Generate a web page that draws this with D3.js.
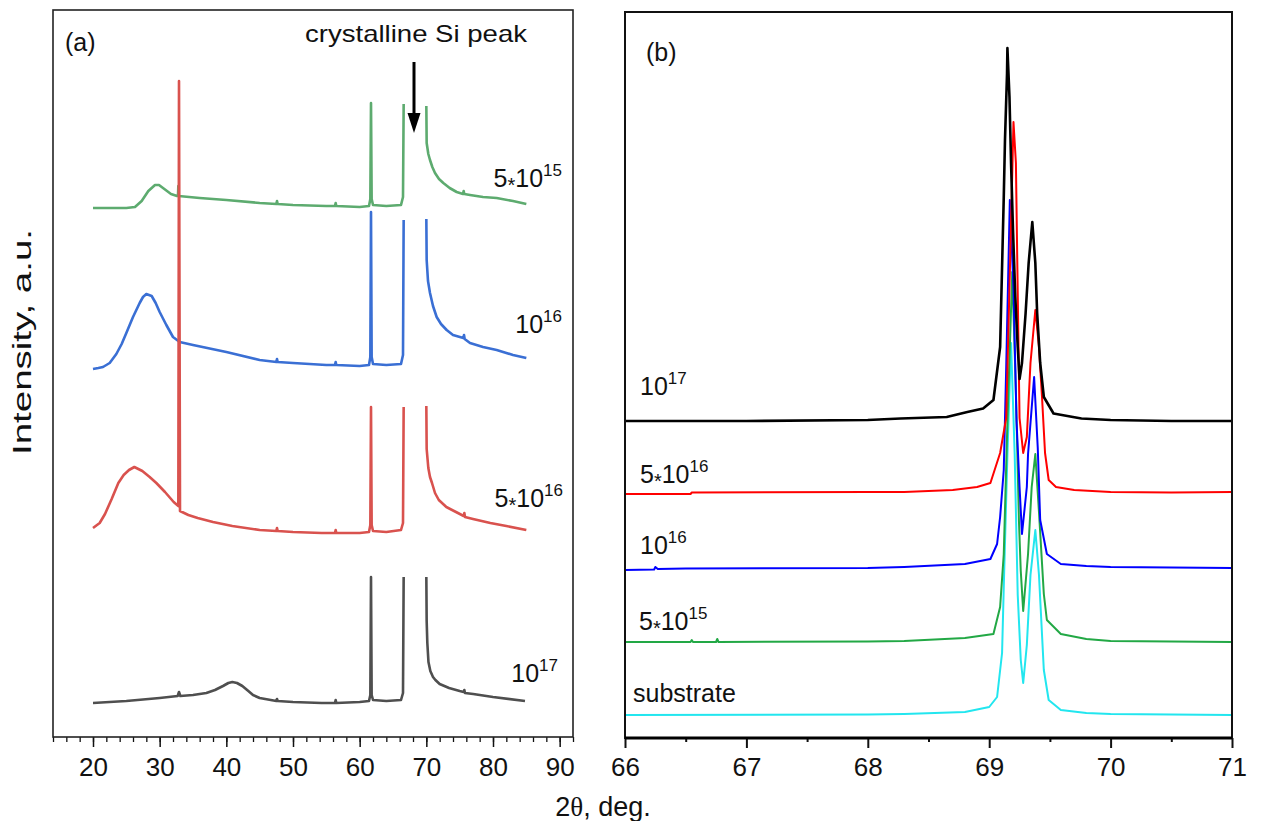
<!DOCTYPE html>
<html>
<head>
<meta charset="utf-8">
<script src="https://cdn.jsdelivr.net/npm/d3@7"></script>
<style>
  body { margin: 0; background: #fff; }
  svg { display: block; font-family: "Liberation Sans", Arial, sans-serif; }
</style>
</head>
<body>
<svg id="fig" width="1261" height="821"></svg>
<script>
// ---------- panel (a): wide scan, [2theta, intensity a.u. above own baseline] ----------
// null marks the break where the Si substrate peak goes off scale
var a1e17 = [[20, 0], [25, 2], [30, 5], [32.7, 7], [32.9, 11], [33.1, 7], [35, 8], [37, 10], [38.3, 13],
  [39.5, 17], [40.3, 20], [40.9, 21], [41.6, 20], [42.4, 17], [43.3, 12], [44, 8], [45, 5], [47.5, 2],
  [47.6, 4], [47.7, 2], [50, 1], [54.3, 0], [56.3, 0], [56.4, 3], [56.5, 0], [60, 1], [61.4, 2], [61.6, 8],
  [61.7, 126], [61.8, 8], [62, 3], [64, 2], [66.2, 3], [66.5, 10], [66.6, 126], [68, null], [70.0, 126],
  [70.05, 82], [70.15, 60], [70.32, 41], [70.6, 32], [71.0, 26], [71.36, 23], [72, 19], [73.41, 15],
  [75, 12], [75.6, 11], [75.7, 13], [75.8, 10], [77.03, 9], [80, 6], [84.8, 2]];

var a5e16 = [[20, 5], [21, 10], [21.8, 19], [22.8, 34], [23.8, 50], [24.6, 58], [25.4, 63], [26.2, 66],
  [27.4, 62], [28.5, 56], [29.5, 50], [30.8, 41], [32.1, 31], [32.8, 27], [32.9, 452], [33.05, 22],
  [34.3, 18], [35.7, 15], [38, 11], [40.9, 7], [45, 3], [47.5, 2], [47.6, 5], [47.7, 2], [50, 1], [54.3, 0],
  [56.3, 0], [56.4, 3], [56.5, 0], [60, 0], [61.4, 1], [61.6, 8], [61.7, 126], [61.8, 8], [62, 2], [64, 1],
  [66.2, 3], [66.5, 10], [66.6, 126], [68, null], [70.0, 127], [70.05, 84], [70.3, 65], [70.55, 56],
  [70.85, 50], [71.3, 40], [71.87, 33], [73, 26], [74.45, 21], [75.6, 17], [75.7, 20], [75.8, 16], [77, 14],
  [79.6, 10], [82, 7], [85, 3]];

var a1e16 = [[20, 0], [20.8, 1], [21.5, 2], [22.5, 6], [23.5, 15], [24.3, 25], [25, 36], [26, 52], [27, 66],
  [27.5, 72], [28, 75], [28.8, 73], [29.4, 66], [30, 57], [31, 44], [32, 32], [33, 27], [35, 24], [40, 17],
  [45, 9], [47.5, 7], [47.6, 10], [47.7, 7], [50, 6], [55, 4], [56.3, 4], [56.4, 7], [56.5, 4], [60, 3],
  [61.4, 4], [61.6, 12], [61.7, 157], [61.8, 12], [62, 5], [64, 4], [66.2, 5], [66.5, 14], [66.6, 149],
  [68, null], [70.0, 150], [70.05, 109], [70.25, 88], [70.55, 76], [71, 63], [71.55, 52], [72.2, 45],
  [73.05, 39], [74, 34], [75.55, 31], [75.65, 34], [75.75, 30], [76.55, 26], [78.5, 22], [80.55, 19],
  [83, 14], [85, 11]];

var a5e15 = [[20, 1], [23, 1], [25, 1], [26.3, 2], [27.3, 8], [28.3, 18], [29.3, 24], [29.9, 24], [30.7, 20],
  [31.7, 15], [32.6, 13], [32.75, 13], [32.8, 23], [32.85, 13], [36, 11], [40, 9], [45, 6], [47.5, 5],
  [47.6, 8], [47.7, 5], [50, 4], [55, 3], [56.3, 3], [56.4, 6], [56.5, 3], [60, 2], [61.4, 3], [61.6, 10],
  [61.7, 106], [61.8, 10], [62.0, 4], [64, 3], [66.2, 4], [66.5, 12], [66.6, 105], [68, null], [70.0, 103],
  [70.05, 66], [70.3, 55], [70.55, 49], [70.9, 42], [71.3, 36], [71.9, 30], [72.55, 26], [73.5, 21],
  [74.55, 17], [75.5, 15], [75.6, 18], [75.7, 15], [76.55, 14], [78.5, 12], [80.55, 11], [83, 8], [85, 5]];

var aSeries = [a1e17, a5e15, a1e16, a5e16];
var aOffsets = [34, 528, 368, 204];
var aMantissa = ["10", "5*10", "10", "5*10"];
var aExponent = ["17", "15", "16", "16"];
var aTicks = [20, 30, 40, 50, 60, 70, 80, 90];
var arrowAngle = 68.15, arrowFrom = 675, arrowTo = 604;

// ---------- panel (b): Si (400) region, normalised ----------
var b1e17 = [[66, 0], [67, 0], [68, 1], [68.27, 2.5], [68.65, 4], [68.82, 9], [68.95, 12.5], [69.035, 21],
  [69.09, 74], [69.1, 124], [69.11, 174], [69.12, 224], [69.13, 281], [69.147, 348], [69.15, 373],
  [69.167, 324], [69.18, 258], [69.196, 191], [69.215, 124], [69.235, 74], [69.25, 42], [69.27, 58],
  [69.3, 108], [69.325, 158], [69.355, 199], [69.38, 158], [69.395, 108], [69.42, 58], [69.45, 24],
  [69.53, 7.5], [69.69, 4], [69.76, 2.5], [70, 1], [70.5, 0], [71, 0]];

var b5e16 = [[66, -1], [66.54, -1], [66.55, 0.5], [68, 1], [68.3, 1], [68.7, 3], [68.9, 6], [69.01, 10],
  [69.09, 40], [69.14, 75], [69.17, 220], [69.2, 371], [69.22, 330], [69.235, 200], [69.25, 75], [69.28, 40],
  [69.31, 56], [69.34, 130], [69.38, 183], [69.41, 146], [69.435, 96], [69.46, 40], [69.49, 13], [69.55, 6],
  [69.7, 3], [70, 1], [70.5, 0.5], [71, 1]];

var b1e16 = [[66, -2], [66.24, -1.5], [66.25, 1], [66.27, -1], [66.5, -0.5], [68, 0], [68.3, 1], [68.8, 4],
  [69.01, 9], [69.065, 24], [69.09, 51], [69.12, 98], [69.14, 200], [69.17, 368], [69.2, 280], [69.225, 147],
  [69.25, 81], [69.27, 34], [69.31, 81], [69.32, 114], [69.37, 191], [69.4, 120], [69.42, 48], [69.475, 14],
  [69.59, 4], [69.8, 2], [70, 1], [71, 0]];

var b5e15 = [[66, 0], [66.54, 0], [66.55, 2], [66.56, 0], [66.75, 0], [66.76, 3], [66.77, 0], [68, 0.5],
  [68.3, 1], [68.8, 4], [69.035, 8], [69.09, 35], [69.12, 88], [69.15, 220], [69.19, 370], [69.22, 250],
  [69.245, 121], [69.26, 71], [69.28, 31], [69.32, 88], [69.35, 155], [69.38, 188], [69.41, 130], [69.45, 48],
  [69.475, 22], [69.59, 8], [69.8, 3], [70, 1], [71, 0]];

var bSubstrate = [[66, 0], [68, 0.5], [68.3, 1], [68.8, 3], [69.0, 8], [69.065, 18], [69.106, 62], [69.12, 128],
  [69.15, 260], [69.18, 372], [69.21, 260], [69.235, 120], [69.26, 55], [69.28, 32], [69.31, 70], [69.34, 140],
  [69.38, 185], [69.41, 140], [69.45, 45], [69.49, 15], [69.59, 5], [69.8, 2], [70, 1], [71, 0]];

var bSeries = [b1e17, b5e16, b1e16, b5e15, bSubstrate];
var bOffsets = [317, 245, 170, 96, 23];
var bMantissa = ["10", "5*10", "10", "5*10", "substrate"];
var bExponent = ["17", "16", "16", "15", ""];
var bTicks = [66, 67, 68, 69, 70, 71];

// ---------- styles ----------
var aColors = ["#4f4f4f", "#5dab6f", "#3a6fd4", "#d9524e"];
var aLabelPos = [[558, 682], [562, 187], [562, 333], [563, 507]];
var bColors = ["#000000", "#ff0000", "#0000ff", "#22a845", "#22e6ef"];
var bLabelPos = [[640, 395], [640, 483], [640, 554], [639, 630], [633, 702]];

var svg = d3.select("#fig");

function addLabel(x, y, mant, exp, anchor) {
  var t = svg.append("text")
    .attr("x", x).attr("y", y)
    .attr("text-anchor", anchor)
    .style("font-size", "25px").style("fill", "#111");
  var parts = mant.split("*");
  if (parts.length == 2) {
    t.append("tspan").text(parts[0]);
    t.append("tspan").attr("dy", 5).style("font-size", "20px").text("*");
    t.append("tspan").attr("dy", -5).text(parts[1]);
  } else {
    t.append("tspan").text(mant);
  }
  if (exp) {
    t.append("tspan").attr("dy", -11).style("font-size", "17px").text(exp);
  }
}

function styleAxis(g, fontSize, width) {
  g.select(".domain").remove();
  g.selectAll(".tick line").attr("stroke", "#111").attr("stroke-width", width);
  g.selectAll(".tick text").style("font-size", fontSize).style("fill", "#111")
    .style("font-family", "'Liberation Sans', Arial, sans-serif");
}

// ===== panel (a) =====
var xA = d3.scaleLinear().domain([14, 92]).range([53, 573]);
var yA = d3.scaleLinear().domain([0, 727]).range([737, 10]);

var gA = svg.append("g");
aSeries.forEach(function (s, i) {
  var line = d3.line()
    .defined(function (d) { return d[1] !== null; })
    .x(function (d) { return xA(d[0]); })
    .y(function (d) { return yA(d[1] + aOffsets[i]); });
  gA.append("path")
    .datum(s)
    .attr("fill", "none")
    .attr("stroke", aColors[i])
    .attr("stroke-width", 2.6)
    .attr("stroke-linejoin", "round")
    .attr("d", line);
});

var minorA = svg.append("g").attr("transform", "translate(0,737)")
  .call(d3.axisBottom(xA).tickValues(d3.range(14, 93, 2)).tickSize(5).tickSizeOuter(0).tickFormat(""));
styleAxis(minorA, "26px", 1.3);
var majorA = svg.append("g").attr("transform", "translate(0,737)")
  .call(d3.axisBottom(xA).tickValues(aTicks).tickSize(10).tickPadding(11).tickSizeOuter(0));
styleAxis(majorA, "26px", 1.5);

svg.append("rect")
  .attr("x", xA(14)).attr("y", yA(727))
  .attr("width", xA(92) - xA(14)).attr("height", yA(0) - yA(727))
  .attr("fill", "none").attr("stroke", "#222").attr("stroke-width", 1.6);

aSeries.forEach(function (s, i) {
  addLabel(aLabelPos[i][0], aLabelPos[i][1], aMantissa[i], aExponent[i], "end");
});

// arrow to the crystalline Si peak
svg.append("line")
  .attr("x1", xA(arrowAngle)).attr("x2", xA(arrowAngle))
  .attr("y1", yA(arrowFrom)).attr("y2", yA(arrowTo) - 16)
  .attr("stroke", "#000").attr("stroke-width", 3);
svg.append("path")
  .attr("d", "M" + (xA(arrowAngle) - 6.5) + "," + (yA(arrowTo) - 20) +
    "L" + (xA(arrowAngle) + 6.5) + "," + (yA(arrowTo) - 20) +
    "L" + xA(arrowAngle) + "," + yA(arrowTo) + "Z")
  .attr("fill", "#000");

svg.append("text").attr("x", 416).attr("y", 42).attr("text-anchor", "middle")
  .attr("textLength", 222).attr("lengthAdjust", "spacingAndGlyphs")
  .style("font-size", "24px").style("fill", "#111").text("crystalline Si peak");

svg.append("text").attr("x", 65).attr("y", 51)
  .style("font-size", "25px").style("fill", "#111").text("(a)");

svg.append("text")
  .attr("transform", "translate(31,342) rotate(-90)")
  .attr("text-anchor", "middle")
  .attr("textLength", 226).attr("lengthAdjust", "spacingAndGlyphs")
  .style("font-size", "25px").style("fill", "#111").text("Intensity, a.u.");

// ===== panel (b) =====
var xB = d3.scaleLinear().domain([66, 71]).range([625, 1232]);
var yB = d3.scaleLinear().domain([0, 726]).range([738, 12]);

// substrate drawn first, highest dose last (on top)
var gB = svg.append("g");
d3.range(bSeries.length - 1, -1, -1).forEach(function (i) {
  var line = d3.line()
    .x(function (d) { return xB(d[0]); })
    .y(function (d) { return yB(d[1] + bOffsets[i]); });
  gB.append("path")
    .datum(bSeries[i])
    .attr("fill", "none")
    .attr("stroke", bColors[i])
    .attr("stroke-width", i == 0 ? 2.6 : 2)
    .attr("stroke-linejoin", "round")
    .attr("d", line);
});

var minorB = svg.append("g").attr("transform", "translate(0,738)")
  .call(d3.axisBottom(xB).tickValues(d3.range(66.5, 71, 1)).tickSize(4).tickSizeOuter(0).tickFormat(""));
styleAxis(minorB, "26px", 2);
var majorB = svg.append("g").attr("transform", "translate(0,738)")
  .call(d3.axisBottom(xB).tickValues(bTicks).tickSize(10).tickPadding(10).tickSizeOuter(0)
    .tickFormat(d3.format("d")));
styleAxis(majorB, "26px", 2);

svg.append("rect")
  .attr("x", xB(66)).attr("y", yB(726))
  .attr("width", xB(71) - xB(66)).attr("height", yB(0) - yB(726))
  .attr("fill", "none").attr("stroke", "#111").attr("stroke-width", 2);
svg.append("line")
  .attr("x1", xB(66)).attr("x2", xB(71)).attr("y1", yB(0)).attr("y2", yB(0))
  .attr("stroke", "#000").attr("stroke-width", 3.2);

bSeries.forEach(function (s, i) {
  addLabel(bLabelPos[i][0], bLabelPos[i][1], bMantissa[i], bExponent[i], "start");
});

svg.append("text").attr("x", 646).attr("y", 61)
  .style("font-size", "25px").style("fill", "#111").text("(b)");

// shared x title
var xt = svg.append("text").attr("x", 603).attr("y", 816).attr("text-anchor", "middle")
  .style("font-size", "27px").style("fill", "#111");
xt.append("tspan").text("2");
xt.append("tspan").style("font-family", "'Liberation Serif', 'DejaVu Serif', serif").text("θ");
xt.append("tspan").text(", deg.");
</script>
</body>
</html>
